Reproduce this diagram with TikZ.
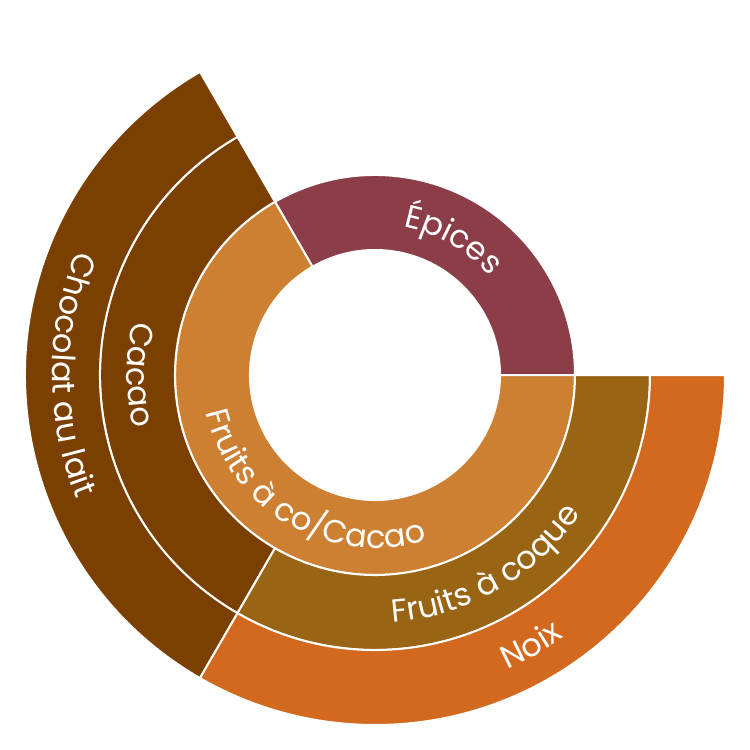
\documentclass[tikz,border=0pt]{standalone}
\usepackage{fontspec}
\setmainfont{Poppins}[StylisticSet=1]
\usetikzlibrary{decorations.text}
\definecolor{cEpices}{RGB}{139,62,72}
\definecolor{cFruitsCacao}{RGB}{205,127,50}
\definecolor{cCacao}{RGB}{123,63,0}
\definecolor{cCoque}{RGB}{153,101,21}
\definecolor{cNoix}{RGB}{210,105,30}
\newcommand\lblfont{\fontsize{32}{36}\selectfont\color{white}}
\newcommand\sunseg[5]{%
  \filldraw[segstyle, fill=#5] (#1:#3pt) arc[start angle=#1, end angle=#2, radius=#3pt]
    -- (#2:#4pt) arc[start angle=#2, end angle=#1, radius=#4pt] -- cycle;}
\newcommand\arclabel[4]{%
  \path[labelstyle, decoration={text={|\lblfont|#1}}]
    (#2:#4pt) arc[start angle=#2, end angle=#3, radius=#4pt];}
\tikzset{
  segstyle/.style={draw=white, line width=2pt, line join=miter},
  labelstyle/.style={decorate, decoration={text along path, text align=center}}
}
\begin{document}
\begin{tikzpicture}
\useasboundingbox (-375pt,-375pt) rectangle (375pt,375pt);
% ring 1
\sunseg{0}{120}{125}{200}{cEpices}
\sunseg{120}{360}{125}{200}{cFruitsCacao}
% ring 2
\sunseg{120}{240}{200}{275}{cCacao}
\sunseg{240}{360}{200}{275}{cCoque}
% ring 3
\sunseg{120}{240}{275}{350}{cCacao}
\sunseg{240}{360}{275}{350}{cNoix}
% labels
\arclabel{Épices}{110}{10}{151}
\arclabel{Fruits à co/Cacao}{140}{340}{173}
\arclabel{Cacao}{130}{230}{248}
\arclabel{Fruits à coque}{250}{350}{248}
\arclabel{Chocolat au lait}{130}{230}{323}
\arclabel{Noix}{250}{350}{323}
\end{tikzpicture}
\end{document}
